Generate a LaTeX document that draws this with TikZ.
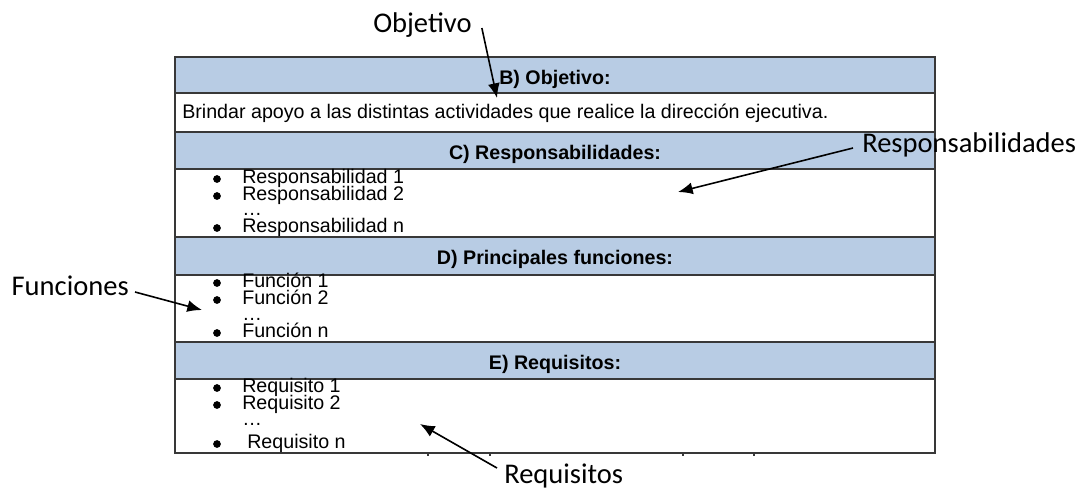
\documentclass[tikz,border=0pt]{standalone}
\usepackage{fontspec}
\setmainfont{Liberation Sans}
\newfontfamily\calloutfont{Carlito}
\usetikzlibrary{positioning, calc, arrows.meta}
\definecolor{headblue}{HTML}{B8CCE4}
\definecolor{rulegray}{HTML}{383838}

\begin{document}
\begin{tikzpicture}[x = 0.75pt, y = -0.75pt]
\begin{scope}[
	rule/.style={draw=rulegray, line width=0.8pt},
	cell/.style={font=\fontsize{14.75}{16}\selectfont, inner sep=0pt, anchor=base west},
	headtext/.style={font=\fontsize{14.75}{16}\selectfont\bfseries, inner sep=0pt, anchor=base},
	dot/.style={circle, fill=black, inner sep=0pt, minimum size=5.8pt},
	callout/.style={font=\calloutfont\fontsize{21.4}{24}\selectfont, inner sep=0pt},
	pointer/.style={-{Latex[length=11pt, width=9pt]}, line width=1.2pt}
]
\useasboundingbox (0, 0) rectangle (1085, 487);
\foreach \ytop/\ybot/\name/\txt in {57/93/B/B) Objetivo:, 132/169/C/C) Responsabilidades:, 237/275/D/D) Principales funciones:, 342/379/E/E) Requisitos:} {
	\fill[headblue] (175, \ytop) rectangle (935, \ybot);
	\node[headtext] (head-\name) at (555, \ytop + 27) {\txt};
}
\foreach \y in {93, 132, 169, 237, 275, 342, 379}
	\draw[rule] (175, \y) -- (935, \y);
\draw[rule] (175, 57) rectangle (935, 453);
\foreach \x in {428, 490, 683, 754}
	\draw[rule] (\x, 453) -- (\x, 456);
\node[cell] (objtext) at (182, 118) {Brindar apoyo a las distintas actividades que realice la dirección ejecutiva.};
\foreach \name/\ya/\yb/\yc/\yd/\word/\xn in {resp/183/200/215/232/Responsabilidad/242, fun/287/304/320/337/Función/242, req/392/409/425/448/Requisito/247} {
	\node[dot] (\name-d1) at (217, \ya - 4) {};
	\node[dot] (\name-d2) at (217, \yb - 4) {};
	\node[dot] (\name-dn) at (217, \yd - 4) {};
	\node[cell] (\name-1) at (242, \ya) {\word\ 1};
	\node[cell] (\name-2) at (242, \yb) {\word\ 2};
	\node[cell] (\name-dots) at (242, \yc) {…};
	\node[cell] (\name-n) at (\xn, \yd) {\word\ n};
}
\node[callout, anchor=base west] (lbl-obj) at (373, 32) {Objetivo};
\node[callout, anchor=base west] (lbl-resp) at (862, 152) {Responsabilidades};
\node[callout, anchor=base east] (lbl-fun) at (129, 295) {Funciones};
\node[callout, anchor=base west] (lbl-req) at (504, 483) {Requisitos};
\coordinate (tip-obj) at (497, 98);
\coordinate (tip-resp) at (678, 192);
\coordinate (tip-fun) at (202, 310);
\coordinate (tip-req) at (420, 424);
\draw[pointer] ($(lbl-obj.base east) + (10, -4)$) -- (tip-obj);
\draw[pointer] ($(lbl-resp.base west) + (-9, -4)$) -- (tip-resp);
\draw[pointer] ($(lbl-fun.base east) + (6, -3)$) -- (tip-fun);
\draw[pointer] ($(lbl-req.base west) + (-7, -15)$) -- (tip-req);
\end{scope}
\end{tikzpicture}
\end{document}
